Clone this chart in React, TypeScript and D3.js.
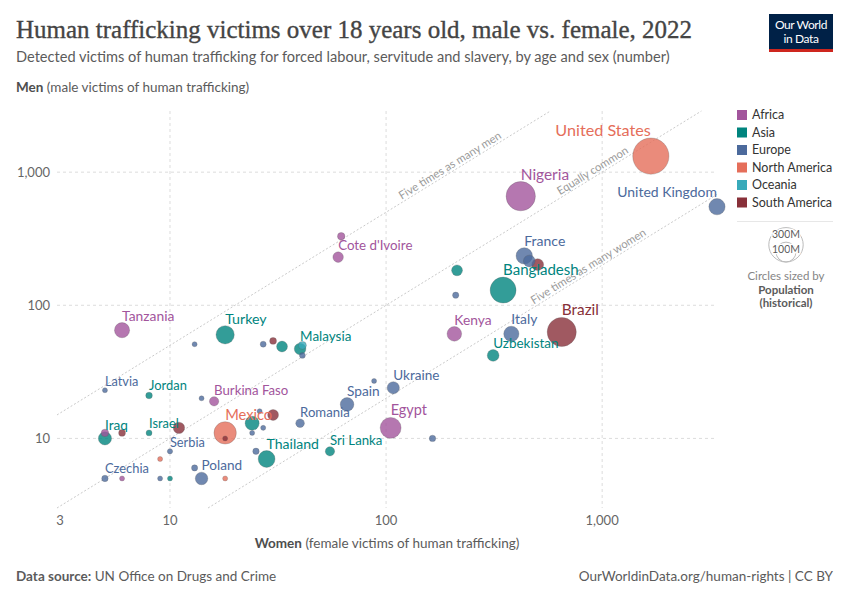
import React from "react";
import * as d3 from "d3";

const regions = ["Africa", "Asia", "Europe", "North America", "Oceania", "South America"];
const regionColors = ["#A2559C", "#00847E", "#4C6A9C", "#E56E5A", "#38AABA", "#883039"];

const countries = [
  "United States", "Nigeria", "United Kingdom", "Cote d'Ivoire", "Guinea", "Nepal", "Portugal",
  "France", "Belgium", "Colombia", "Bangladesh", "Brazil", "Kenya", "Italy", "Uzbekistan",
  "Tanzania", "Turkey", "Malaysia", "Ukraine", "Spain", "Romania", "Egypt", "Sri Lanka",
  "Thailand", "Mexico", "Burkina Faso", "Latvia", "Jordan", "Iraq", "Israel", "Serbia",
  "Czechia", "Poland", "Slovakia", "Austria", "Bolivia", "Cambodia", "Australia", "Switzerland",
  "Denmark", "Sweden", "Lithuania", "Mali", "Ecuador", "Peru", "Uruguay", "Costa Rica",
  "Gambia", "Slovenia", "Mongolia", "Hungary", "Panama", "Venezuela", "Myanmar", "Croatia",
  "Bulgaria", "Moldova", "Greece",
];
const countryRegion = [
  "North America", "Africa", "Europe", "Africa", "Africa", "Asia", "Europe",
  "Europe", "Europe", "South America", "Asia", "South America", "Africa", "Europe", "Asia",
  "Africa", "Asia", "Asia", "Europe", "Europe", "Europe", "Africa", "Asia",
  "Asia", "North America", "Africa", "Europe", "Asia", "Asia", "Asia", "Europe",
  "Europe", "Europe", "Europe", "Europe", "South America", "Asia", "Oceania", "Europe",
  "Europe", "Europe", "Europe", "Africa", "South America", "South America", "South America", "North America",
  "Africa", "Europe", "Asia", "Europe", "North America", "South America", "Asia", "Europe",
  "Europe", "Europe", "Europe",
];
// female victims (x)
const womenVictims = [
  1680, 420, 3400, 60, 62, 213, 210,
  436, 460, 503, 348, 650, 207, 380, 313,
  6, 18, 40, 108, 66, 40, 105, 55,
  28, 18, 16, 5, 8, 5, 8, 10,
  5, 14, 13, 27, 30, 33, 41, 41,
  88, 164, 14, 5, 6, 11, 18, 9,
  6, 9, 10, 13, 18, 30, 24, 26,
  27, 24, 25,
];
// male victims (y)
const menVictims = [
  1320, 660, 550, 230, 330, 183, 119,
  235, 215, 202, 130, 63, 61, 61, 42,
  65, 60, 47, 24, 18, 13, 12, 8,
  7, 11, 19, 23, 21, 10, 11, 8,
  5, 5, 51, 51, 54, 49, 50, 42,
  27, 10, 20, 11, 11, 12, 10, 7,
  5, 5, 5, 6, 5, 15, 13, 16,
  12, 11, 8,
];
// population, millions
const population = [
  333, 218, 67, 28, 14, 30, 10,
  68, 35, 36, 171, 215, 54, 59, 35,
  58, 85, 34, 38, 47, 19, 111, 22,
  72, 127, 22, 1.9, 11, 44, 9, 7,
  10.5, 40, 5.4, 9, 12, 30, 16, 8.7,
  5.9, 10.5, 2.8, 14, 12, 33, 3.4, 5,
  2.7, 2.1, 3.4, 9.7, 4.4, 30, 50, 3.9,
  6.5, 2.5, 10.4,
];
const labelled = [
  "United States", "Nigeria", "United Kingdom", "Cote d'Ivoire", "France", "Bangladesh", "Brazil",
  "Kenya", "Italy", "Uzbekistan", "Tanzania", "Turkey", "Malaysia", "Ukraine", "Spain", "Romania",
  "Egypt", "Sri Lanka", "Thailand", "Mexico", "Burkina Faso", "Latvia", "Jordan", "Iraq", "Israel",
  "Serbia", "Czechia", "Poland",
];
const labelsLeftOfPoint = ["United States", "United Kingdom"];

const xTicks = [3, 10, 100, 1000];
const yTicks = [10, 100, 1000];
const xDomain = [3, 3400];
const yDomain = [3, 2880];

const guideRatios = [5, 1, 0.2];
const guideLabels = ["Five times as many men", "Equally common", "Five times as many women"];
const guideLabelPos = [0.905, 0.89, 0.865];

const sizeLegendValues = [300, 100];

const FONT = "Lato, 'Noto Sans', sans-serif";

export default function App() {
  const W = 850, H = 600;
  const left = 57, right = 717, top = 111, bottom = 508;
  const x = d3.scaleLog().domain(xDomain).range([left, right]);
  const y = d3.scaleLog().domain(yDomain).range([bottom, top]);
  const r = d3.scaleSqrt().domain([0, 300]).range([0, 17.2]);
  const rad = (p: number) => Math.max(2.5, r(p));
  const color = d3.scaleOrdinal<string, string>().domain(regions).range(regionColors);
  const fmt = d3.format(",");

  const pts = countries.map((c, i) => ({
    name: c,
    region: countryRegion[i],
    xv: womenVictims[i],
    yv: menVictims[i],
    pop: population[i],
  }));
  const sorted = [...pts].sort((a, b) => b.pop - a.pop);

  const guides = guideRatios.map((k, i) => {
    const xs = Math.max(xDomain[0], yDomain[0] / k);
    const xe = Math.min(xDomain[1], yDomain[1] / k);
    const x1 = x(xs), y1 = y(k * xs), x2 = x(xe), y2 = y(k * xe);
    const angle = (Math.atan2(y2 - y1, x2 - x1) * 180) / Math.PI;
    const f = guideLabelPos[i];
    return { x1, y1, x2, y2, angle, lx: x1 + (x2 - x1) * f, ly: y1 + (y2 - y1) * f, label: guideLabels[i] };
  });

  const legendX = 737, legendY0 = 115, legendStep = 17.5;
  const sizeCx = 786, sizeBottom = 262;

  return (
    <svg width={W} height={H} style={{ position: "absolute", left: 0, top: 0, background: "#fff" }} fontFamily={FONT}>
      <rect x={0} y={0} width={W} height={H} fill="#fff" />
      {/* Title */}
      <text x={16} y={38} fontFamily="'Liberation Serif', 'DejaVu Serif', serif" fontSize={25} fill="#444" stroke="#444" strokeWidth={0.35} textLength={676} lengthAdjust="spacingAndGlyphs">
        Human trafficking victims over 18 years old, male vs. female, 2022
      </text>
      <text x={16} y={62} fontSize={14.6} fill="#5b5b5b">
        Detected victims of human trafficking for forced labour, servitude and slavery, by age and sex (number)
      </text>
      {/* Logo */}
      <g>
        <rect x={769} y={14} width={64} height={38} fill="#002147" />
        <rect x={769} y={49} width={64} height={3} fill="#ce261e" />
        <text x={801} y={29} textAnchor="middle" fontSize={12} fill="#fff" letterSpacing={-0.4}>Our World</text>
        <text x={801} y={43} textAnchor="middle" fontSize={12} fill="#fff" letterSpacing={-0.4}>in Data</text>
      </g>
      {/* Y axis title */}
      <text x={16} y={92} fontSize={13.5} fill="#5b5b5b">
        <tspan fontWeight={700} fill="#4e4e4e">Men</tspan> (male victims of human trafficking)
      </text>

      {/* Grid */}
      {yTicks.map((t) => (
        <g key={"y" + t}>
          <line x1={left} x2={right} y1={y(t)} y2={y(t)} stroke="#dcdcdc" strokeDasharray="3,3" />
          <text x={50} y={y(t)} dy="0.35em" textAnchor="end" fontSize={13} fill="#666">{fmt(t)}</text>
        </g>
      ))}
      {xTicks.map((t) => (
        <g key={"x" + t}>
          {t !== xDomain[0] && (
            <line x1={x(t)} x2={x(t)} y1={top} y2={bottom} stroke="#dcdcdc" strokeDasharray="3,3" />
          )}
          <text x={x(t) + (t === xDomain[0] ? 3 : 0)} y={525} textAnchor="middle" fontSize={13} fill="#666">{fmt(t)}</text>
        </g>
      ))}

      {/* Guide lines */}
      {guides.map((g, i) => (
        <g key={"g" + i}>
          <line x1={g.x1} y1={g.y1} x2={g.x2} y2={g.y2} stroke="#bbb" strokeWidth={0.8} strokeDasharray="2,2" />
          <text transform={`translate(${g.lx},${g.ly}) rotate(${g.angle})`} dy={-2.5} textAnchor="end" fontSize={11.3} fill="#9a9a9a">
            {g.label}
          </text>
        </g>
      ))}

      {/* Points */}
      {sorted.map((p) => (
        <circle key={p.name} cx={x(p.xv)} cy={y(p.yv)} r={rad(p.pop)} fill={color(p.region)} fillOpacity={0.8} stroke="#555" strokeOpacity={0.5} strokeWidth={0.5} />
      ))}
      {/* Labels */}
      {pts.filter((p) => labelled.includes(p.name)).map((p) => {
        const rr = rad(p.pop);
        const fs = 12.2 + 0.22 * rr;
        const leftSide = labelsLeftOfPoint.includes(p.name);
        return (
          <text key={"l" + p.name} x={x(p.xv)} y={y(p.yv) - rr - 2} textAnchor={leftSide ? "end" : "start"} fontSize={fs} fill={color(p.region)}>
            {p.name}
          </text>
        );
      })}

      {/* X axis title */}
      <text x={(left + right) / 2} y={548} textAnchor="middle" fontSize={13.5} fill="#5b5b5b">
        <tspan fontWeight={700} fill="#4e4e4e">Women</tspan> (female victims of human trafficking)
      </text>

      {/* Legend */}
      {regions.map((reg, i) => (
        <g key={reg}>
          <rect x={legendX} y={legendY0 + i * legendStep - 5} width={10} height={10} fill={regionColors[i]} />
          <text x={legendX + 15} y={legendY0 + i * legendStep} dy="0.35em" fontSize={12.5} fill="#333">{reg}</text>
        </g>
      ))}
      <line x1={737} x2={833} y1={221.5} y2={221.5} stroke="#e7e7e7" />
      {sizeLegendValues.map((v) => {
        const rr = r(v);
        return (
          <circle key={"sc" + v} cx={sizeCx} cy={sizeBottom - rr} r={rr} fill="none" stroke="#bbb" strokeWidth={1} />
        );
      })}
      {sizeLegendValues.map((v) => {
        const rr = r(v);
        return (
          <text key={"st" + v} x={sizeCx} y={sizeBottom - 2 * rr + 7} dy="0.35em" textAnchor="middle" fontSize={10.5} fill="#5b5b5b" stroke="#fff" strokeWidth={2.5} paintOrder="stroke">
            {v}M
          </text>
        );
      })}
      <text x={sizeCx} y={276} dy="0.35em" textAnchor="middle" fontSize={11.5} fill="#858585">Circles sized by</text>
      <text x={sizeCx} y={290} dy="0.35em" textAnchor="middle" fontSize={11.5} fontWeight={700} fill="#5b5b5b">Population</text>
      <text x={sizeCx} y={303} dy="0.35em" textAnchor="middle" fontSize={11.5} fontWeight={700} fill="#5b5b5b">(historical)</text>

      {/* Footer */}
      <text x={16} y={581} fontSize={13.5} fill="#5b5b5b">
        <tspan fontWeight={700}>Data source:</tspan> UN Office on Drugs and Crime
      </text>
      <text x={833} y={581} textAnchor="end" fontSize={13.5} fill="#5b5b5b">
        OurWorldinData.org/human-rights | CC BY
      </text>
    </svg>
  );
}
